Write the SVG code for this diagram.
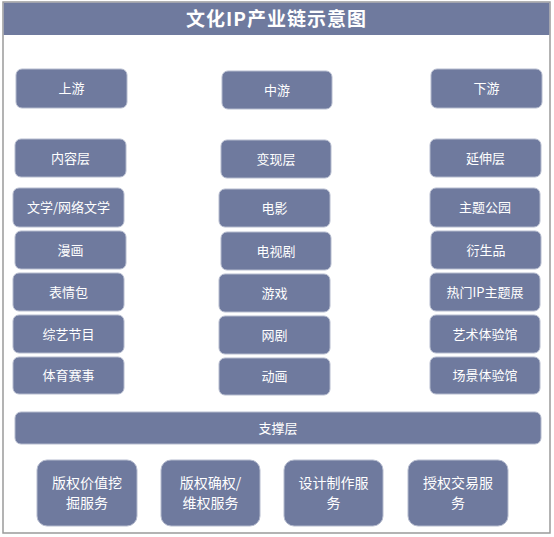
<svg xmlns="http://www.w3.org/2000/svg" width="554" height="537" viewBox="0 0 554 537">
<style>
.b{fill:#6F7A9E;stroke:#B5BBCE;stroke-width:1}
.t{fill:#FFFFFF;font-family:"Noto Sans CJK SC","Liberation Sans",sans-serif;font-size:13px;text-anchor:middle}
.t2{font-size:14px}
.ttl{fill:#FFFFFF;font-family:"Noto Sans CJK SC","Liberation Sans",sans-serif;font-size:19px;font-weight:bold;text-anchor:middle;letter-spacing:1px}
</style>
<rect x="0" y="0" width="554" height="537" fill="#FFFFFF"/>
<rect x="3" y="2" width="547" height="531" fill="#FFFFFF" stroke="#9A9A9A" stroke-width="1.5"/>
<g id="title">
<rect x="3.75" y="2.75" width="545.5" height="32.25" fill="#6F7A9E"/>
<text class="ttl" x="276.5" y="25.5">文化IP产业链示意图</text>
</g>
<g id="connectors"></g>
<g id="n-shangyou"><rect class="b" x="16" y="69" width="111" height="39" rx="6"/><text class="t" x="71.5" y="93">上游</text></g>
<g id="n-zhongyou"><rect class="b" x="222" y="71" width="110" height="38" rx="6"/><text class="t" x="277" y="94.5">中游</text></g>
<g id="n-xiayou"><rect class="b" x="431" y="69" width="111" height="39" rx="6"/><text class="t" x="486.5" y="93">下游</text></g>
<g id="n-neirong"><rect class="b" x="15" y="139" width="111" height="38" rx="6"/><text class="t" x="70.5" y="162.5">内容层</text></g>
<g id="n-bianxian"><rect class="b" x="221" y="140" width="110" height="38" rx="6"/><text class="t" x="276" y="163.5">变现层</text></g>
<g id="n-yanshen"><rect class="b" x="430" y="139" width="111" height="38" rx="6"/><text class="t" x="485.5" y="162.5">延伸层</text></g>
<g id="n-wenxue"><rect class="b" x="13" y="188" width="111" height="39" rx="6"/><text class="t" x="68.5" y="212">文学/网络文学</text></g>
<g id="n-manhua"><rect class="b" x="15" y="231" width="111" height="38" rx="6"/><text class="t" x="70.5" y="254.5">漫画</text></g>
<g id="n-biaoqing"><rect class="b" x="13" y="273" width="111" height="38" rx="6"/><text class="t" x="68.5" y="296.5">表情包</text></g>
<g id="n-zongyi"><rect class="b" x="13" y="315" width="111" height="38" rx="6"/><text class="t" x="68.5" y="338.5">综艺节目</text></g>
<g id="n-tiyu"><rect class="b" x="13" y="357" width="111" height="37" rx="6"/><text class="t" x="68.5" y="380">体育赛事</text></g>
<g id="n-dianying"><rect class="b" x="219" y="189" width="111" height="38" rx="6"/><text class="t" x="274.5" y="212.5">电影</text></g>
<g id="n-dianshiju"><rect class="b" x="221" y="232" width="110" height="38" rx="6"/><text class="t" x="276" y="255.5">电视剧</text></g>
<g id="n-youxi"><rect class="b" x="219" y="274" width="111" height="38" rx="6"/><text class="t" x="274.5" y="297.5">游戏</text></g>
<g id="n-wangju"><rect class="b" x="219" y="316" width="111" height="38" rx="6"/><text class="t" x="274.5" y="339.5">网剧</text></g>
<g id="n-donghua"><rect class="b" x="219" y="358" width="111" height="37" rx="6"/><text class="t" x="274.5" y="381">动画</text></g>
<g id="n-zhuti"><rect class="b" x="430" y="188" width="110" height="39" rx="6"/><text class="t" x="485" y="212">主题公园</text></g>
<g id="n-yansheng"><rect class="b" x="431" y="231" width="110" height="38" rx="6"/><text class="t" x="486" y="254.5">衍生品</text></g>
<g id="n-remen"><rect class="b" x="430" y="273" width="110" height="38" rx="6"/><text class="t" x="485" y="296.5">热门IP主题展</text></g>
<g id="n-yishu"><rect class="b" x="430" y="315" width="110" height="38" rx="6"/><text class="t" x="485" y="338.5">艺术体验馆</text></g>
<g id="n-changjing"><rect class="b" x="430" y="357" width="110" height="37" rx="6"/><text class="t" x="485" y="380">场景体验馆</text></g>
<g id="n-zhicheng"><rect class="b" x="15" y="412" width="526" height="32" rx="6" stroke="#5A6484"/><text class="t" x="278" y="432.5">支撑层</text></g>
<g id="n-s1"><rect class="b" x="37" y="460" width="100" height="66" rx="10"/><text class="t t2" x="87" y="488">版权价值挖</text><text class="t t2" x="87" y="508">掘服务</text></g>
<g id="n-s2"><rect class="b" x="161" y="460" width="99" height="66" rx="10"/><text class="t t2" x="210.5" y="488">版权确权/</text><text class="t t2" x="210.5" y="508">维权服务</text></g>
<g id="n-s3"><rect class="b" x="284" y="460" width="99" height="66" rx="10"/><text class="t t2" x="333.5" y="488">设计制作服</text><text class="t t2" x="333.5" y="508">务</text></g>
<g id="n-s4"><rect class="b" x="408" y="460" width="100" height="66" rx="10"/><text class="t t2" x="458" y="488">授权交易服</text><text class="t t2" x="458" y="508">务</text></g>
</svg>
